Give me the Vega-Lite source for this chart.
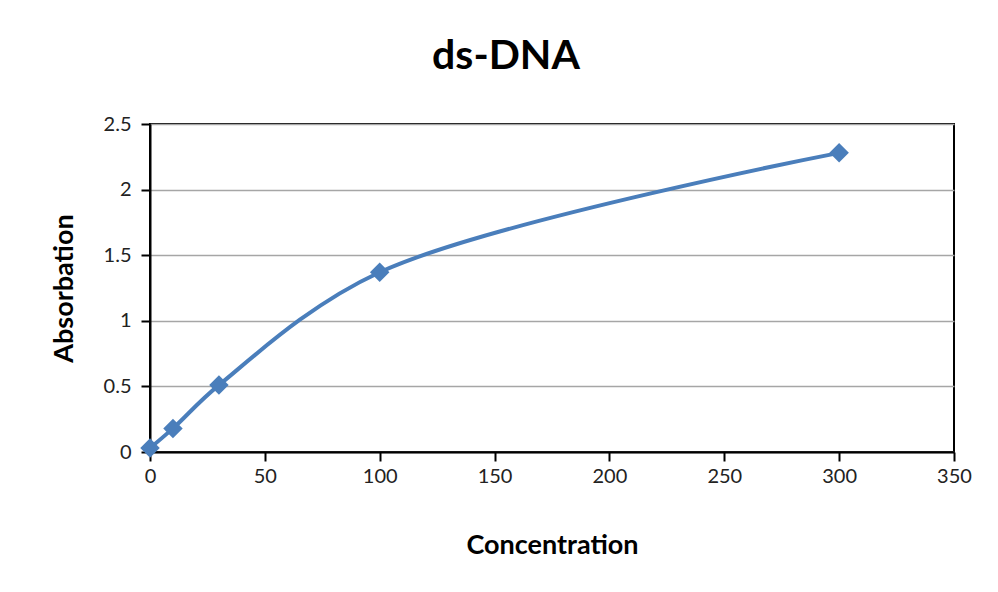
{
  "$schema": "https://vega.github.io/schema/vega-lite/v6.json",
  "width": 804,
  "height": 328,
  "autosize": {"type": "none"},
  "padding": {"left": 150, "top": 124, "right": 44, "bottom": 140},
  "background": "white",
  "title": {
    "text": "ds-DNA",
    "font": "Lato",
    "fontSize": 41,
    "fontWeight": "bold",
    "color": "#000000",
    "anchor": "middle",
    "dx": -46,
    "offset": 36
  },
  "config": {
    "view": {"stroke": "#000000", "strokeWidth": 2},
    "axis": {
      "labelFont": "Lato",
      "labelFontSize": 20,
      "labelColor": "#222222",
      "labelFlush": false,
      "titleFont": "Lato",
      "titleFontSize": 27,
      "titleFontWeight": "bold",
      "titleColor": "#000000",
      "domainColor": "#000000",
      "domainWidth": 2,
      "tickColor": "#000000",
      "tickWidth": 2,
      "tickSize": 9,
      "gridColor": "#a6a6a6",
      "gridWidth": 1.5
    }
  },
  "data": {
    "values": [
      {"concentration": 0, "absorbation": 0.03},
      {"concentration": 10, "absorbation": 0.18},
      {"concentration": 30, "absorbation": 0.51},
      {"concentration": 100, "absorbation": 1.37},
      {"concentration": 300, "absorbation": 2.28}
    ]
  },
  "encoding": {
    "x": {
      "field": "concentration",
      "type": "quantitative",
      "title": "Concentration",
      "scale": {"domain": [0, 350], "nice": false},
      "axis": {"values": [0, 50, 100, 150, 200, 250, 300, 350], "grid": false, "labelPadding": 5, "titlePadding": 46}
    },
    "y": {
      "field": "absorbation",
      "type": "quantitative",
      "title": "Absorbation",
      "scale": {"domain": [0, 2.5], "nice": false},
      "axis": {"values": [0, 0.5, 1, 1.5, 2, 2.5], "format": "~g", "grid": true, "labelPadding": 10, "titlePadding": 25}
    }
  },
  "layer": [
    {
      "mark": {"type": "line", "interpolate": "catmull-rom", "color": "#4a7ebb", "strokeWidth": 4}
    },
    {
      "mark": {"type": "point", "shape": "diamond", "filled": true, "size": 380, "color": "#4a7ebb", "opacity": 1}
    }
  ]
}
